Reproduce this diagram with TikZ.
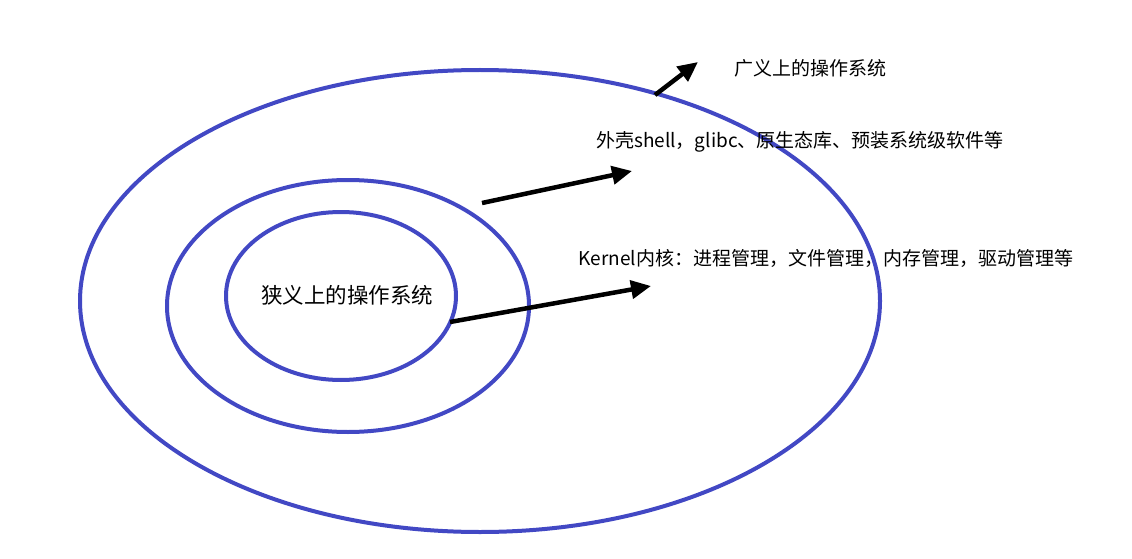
\documentclass[tikz,border=0pt]{standalone}
\usepackage{fontspec}
\setmainfont{Noto Sans CJK SC}
\usepackage{xcolor}
\usetikzlibrary{arrows.meta,shapes.geometric}

\definecolor{ringblue}{RGB}{66,72,196}

\begin{document}
\begin{tikzpicture}[x=1pt, y=-1pt,
    ring/.style={draw=ringblue, line width=4pt, ellipse, inner sep=0pt},
    pointer/.style={line width=4.5pt, -{Triangle[length=20pt, width=18pt]}},
    label/.style={font=\fontsize{19}{22}\selectfont, inner sep=0pt}]
    \useasboundingbox (0,0) rectangle (1132,559);
    \node[ring, minimum width=800pt, minimum height=462pt] (outer) at (480,301) {};
    \node[ring, minimum width=362pt, minimum height=252pt] (middle) at (348,306) {};
    \node[ring, minimum width=230pt, minimum height=168pt] (inner) at (341,296) {};
    \node[font=\fontsize{21.5}{24}\selectfont, inner sep=0pt] (narrow) at (347,295) {狭义上的操作系统};
    \coordinate (A) at (655,95);
    \coordinate (B) at (482,203);
    \coordinate (C) at (450,322);
    \coordinate (A') at (698,62);
    \coordinate (B') at (632,171);
    \coordinate (C') at (651,286);
    \draw[pointer] (A) -- (A');
    \draw[pointer] (B) -- (B');
    \draw[pointer] (C) -- (C');
    \node[label] (broad) at (810,68) {广义上的操作系统};
    \node[label] (shell) at (800,142) {外壳shell，glibc、原生态库、预装系统级软件等};
    \node[label] (kernel) at (826,258) {Kernel内核：进程管理，文件管理，内存管理，驱动管理等};
\end{tikzpicture}
\end{document}
